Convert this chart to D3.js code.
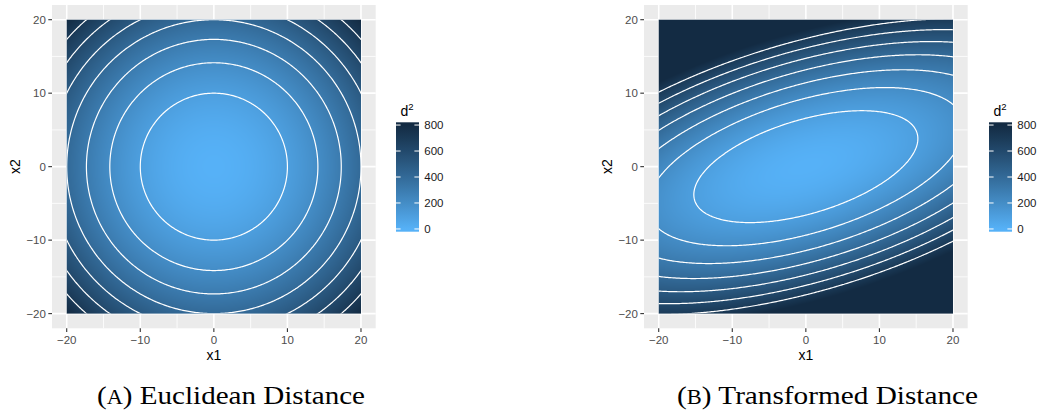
<!DOCTYPE html>
<html>
<head>
<meta charset="utf-8">
<script src="https://cdn.jsdelivr.net/npm/d3@7"></script>
<style>
  html, body { margin: 0; padding: 0; background: #ffffff; }
  svg { display: block; }
</style>
</head>
<body>
<svg id="chart" width="1038" height="411"></svg>
<script>
// Axis ticks and grid positions (same for x1 and x2)
const majorTicks = [-20, -10, 0, 10, 20];
const minorTicks = [-15, -5, 5, 15];
// Sampled square of the plane
const sampleRange = [-20, 20];
// Quadratic forms d^2 = x' M x for each panel
const euclideanMetric = [[1, 0], [0, 1]];
const transformedMetric = [[0.575, -0.575], [-0.575, 2.3]];
// Contour levels drawn as white lines
const contourLevels = [100, 200, 300, 400, 500, 600, 700];
// Colour bar
const legendTicks = [0, 200, 400, 600, 800];
const fillLimits = [0, 800];
const panelTitles = ["Euclidean Distance", "Transformed Distance"];
const panelTags = ["A", "B"];

const panels = [
  { metric: euclideanMetric, left: 52, right: 375.7, legendX: 396, captionX: 231, captionW: 268, tag: panelTags[0], title: panelTitles[0] },
  { metric: transformedMetric, left: 644, right: 967.7, legendX: 989, captionX: 827.5, captionW: 301, tag: panelTags[1], title: panelTitles[1] }
];

const panelTop = 5, panelBottom = 328.3;
const pad = (sampleRange[1] - sampleRange[0]) * 0.05;

const fill = d3.scaleLinear()
  .domain(fillLimits)
  .range(["#56B1F7", "#132B43"])
  .interpolate(d3.interpolateLab)
  .clamp(true);

const svg = d3.select("#chart");
const defs = svg.append("defs");

function quad(M, a, b) {
  return M[0][0] * a * a + (M[0][1] + M[1][0]) * a * b + M[1][1] * b * b;
}

panels.forEach((p, pi) => {
  const x = d3.scaleLinear().domain([sampleRange[0] - pad, sampleRange[1] + pad]).range([p.left, p.right]);
  const y = d3.scaleLinear().domain([sampleRange[0] - pad, sampleRange[1] + pad]).range([panelBottom, panelTop]);
  const g = svg.append("g");

  // panel background and grid
  g.append("rect")
    .attr("x", p.left).attr("y", panelTop)
    .attr("width", p.right - p.left).attr("height", panelBottom - panelTop)
    .attr("fill", "#EBEBEB");
  g.selectAll(".minx").data(minorTicks).join("line")
    .attr("x1", d => x(d)).attr("x2", d => x(d)).attr("y1", panelTop).attr("y2", panelBottom)
    .attr("stroke", "#fff").attr("stroke-width", 0.8);
  g.selectAll(".miny").data(minorTicks).join("line")
    .attr("y1", d => y(d)).attr("y2", d => y(d)).attr("x1", p.left).attr("x2", p.right)
    .attr("stroke", "#fff").attr("stroke-width", 0.8);
  g.selectAll(".majx").data(majorTicks).join("line")
    .attr("x1", d => x(d)).attr("x2", d => x(d)).attr("y1", panelTop).attr("y2", panelBottom)
    .attr("stroke", "#fff").attr("stroke-width", 1.6);
  g.selectAll(".majy").data(majorTicks).join("line")
    .attr("y1", d => y(d)).attr("y2", d => y(d)).attr("x1", p.left).attr("x2", p.right)
    .attr("stroke", "#fff").attr("stroke-width", 1.6);

  // distance raster
  const px0 = x(sampleRange[0]), px1 = x(sampleRange[1]);
  const py0 = y(sampleRange[1]), py1 = y(sampleRange[0]);
  const W = Math.round((px1 - px0) * 2), H = Math.round((py1 - py0) * 2);
  const canvas = document.createElement("canvas");
  canvas.width = W; canvas.height = H;
  const ctx = canvas.getContext("2d");
  const img = ctx.createImageData(W, H);
  for (let j = 0; j < H; j++) {
    const v2 = y.invert(py0 + (j + 0.5) / 2);
    for (let i = 0; i < W; i++) {
      const v1 = x.invert(px0 + (i + 0.5) / 2);
      const c = d3.rgb(fill(quad(p.metric, v1, v2)));
      const k = (j * W + i) * 4;
      img.data[k] = c.r; img.data[k + 1] = c.g; img.data[k + 2] = c.b; img.data[k + 3] = 255;
    }
  }
  ctx.putImageData(img, 0, 0);
  g.append("image")
    .attr("href", canvas.toDataURL())
    .attr("x", px0).attr("y", py0)
    .attr("width", px1 - px0).attr("height", py1 - py0)
    .attr("preserveAspectRatio", "none");

  // contour lines, computed on a grid wider than the plot and clipped to it
  const step = 0.2, lo = sampleRange[0] - 2, hi = sampleRange[1] + 2;
  const n = Math.round((hi - lo) / step) + 1;
  const values = new Array(n * n);
  for (let j = 0; j < n; j++) {
    for (let i = 0; i < n; i++) {
      values[j * n + i] = quad(p.metric, lo + i * step, lo + j * step);
    }
  }
  const contours = d3.contours().size([n, n]).thresholds(contourLevels)(values);
  const proj = d3.geoTransform({
    point: function (gx, gy) {
      this.stream.point(x(lo + (gx - 0.5) * step), y(lo + (gy - 0.5) * step));
    }
  });
  const clipId = "clip" + pi;
  defs.append("clipPath").attr("id", clipId).append("rect")
    .attr("x", px0).attr("y", py0).attr("width", px1 - px0).attr("height", py1 - py0);
  g.append("g").attr("clip-path", `url(#${clipId})`)
    .selectAll("path").data(contours).join("path")
    .attr("d", d3.geoPath(proj))
    .attr("fill", "none").attr("stroke", "#fff").attr("stroke-width", 1.2);

  // axes
  const tickLen = 3.7;
  g.selectAll(".tx").data(majorTicks).join("line")
    .attr("x1", d => x(d)).attr("x2", d => x(d)).attr("y1", panelBottom).attr("y2", panelBottom + tickLen)
    .attr("stroke", "#333").attr("stroke-width", 1.1);
  g.selectAll(".ty").data(majorTicks).join("line")
    .attr("y1", d => y(d)).attr("y2", d => y(d)).attr("x1", p.left - tickLen).attr("x2", p.left)
    .attr("stroke", "#333").attr("stroke-width", 1.1);
  const fmt = d3.format("d");
  g.selectAll(".lx").data(majorTicks).join("text")
    .attr("x", d => x(d)).attr("y", 343.5)
    .attr("text-anchor", "middle")
    .attr("font-family", "Liberation Sans, Arial, sans-serif").attr("font-size", 11.5)
    .attr("fill", "#4D4D4D").text(d => fmt(d));
  g.selectAll(".ly").data(majorTicks).join("text")
    .attr("x", p.left - tickLen - 2.4).attr("y", d => y(d)).attr("dy", "0.36em")
    .attr("text-anchor", "end")
    .attr("font-family", "Liberation Sans, Arial, sans-serif").attr("font-size", 11.5)
    .attr("fill", "#4D4D4D").text(d => fmt(d));
  g.append("text")
    .attr("x", (p.left + p.right) / 2).attr("y", 360)
    .attr("text-anchor", "middle")
    .attr("font-family", "Liberation Sans, Arial, sans-serif").attr("font-size", 14)
    .attr("fill", "#000").text("x1");
  g.append("text")
    .attr("transform", `translate(${p.left - 32},${(panelTop + panelBottom) / 2}) rotate(-90)`)
    .attr("text-anchor", "middle")
    .attr("font-family", "Liberation Sans, Arial, sans-serif").attr("font-size", 14)
    .attr("fill", "#000").text("x2");

  // colour bar legend
  const barW = 23, barTop = 122.3, barH = 109.4;
  const half = barH / 40;
  const ly = d3.scaleLinear().domain(fillLimits).range([barTop + barH - half, barTop + half]);
  const gradId = "grad" + pi;
  const grad = defs.append("linearGradient").attr("id", gradId)
    .attr("gradientUnits", "userSpaceOnUse")
    .attr("x1", 0).attr("x2", 0).attr("y1", ly(fillLimits[0])).attr("y2", ly(fillLimits[1]));
  d3.range(0, 1.0001, 0.05).forEach(t => {
    grad.append("stop").attr("offset", t)
      .attr("stop-color", fill(fillLimits[0] + t * (fillLimits[1] - fillLimits[0])));
  });
  const lg = svg.append("g");
  lg.append("rect").attr("x", p.legendX).attr("y", barTop)
    .attr("width", barW).attr("height", barH).attr("fill", `url(#${gradId})`);
  const lt = 4.6;
  lg.selectAll(".tl").data(legendTicks).join("line")
    .attr("x1", p.legendX).attr("x2", p.legendX + lt)
    .attr("y1", d => ly(d)).attr("y2", d => ly(d))
    .attr("stroke", "#fff").attr("stroke-width", 1);
  lg.selectAll(".tr").data(legendTicks).join("line")
    .attr("x1", p.legendX + barW - lt).attr("x2", p.legendX + barW)
    .attr("y1", d => ly(d)).attr("y2", d => ly(d))
    .attr("stroke", "#fff").attr("stroke-width", 1);
  lg.selectAll(".tt").data(legendTicks).join("text")
    .attr("x", p.legendX + barW + 5.3).attr("y", d => ly(d)).attr("dy", "0.36em")
    .attr("font-family", "Liberation Sans, Arial, sans-serif").attr("font-size", 11.5)
    .attr("fill", "#1A1A1A").text(d => fmt(d));
  const title = lg.append("text")
    .attr("x", p.legendX + 4.5).attr("y", 116)
    .attr("font-family", "Liberation Sans, Arial, sans-serif").attr("font-size", 14)
    .attr("fill", "#000");
  title.append("tspan").text("d");
  title.append("tspan").attr("font-size", 9.5).attr("dy", -6).text("2");

  // caption under the panel
  const cap = svg.append("text")
    .attr("x", p.captionX).attr("y", 404)
    .attr("text-anchor", "middle")
    .attr("textLength", p.captionW)
    .attr("lengthAdjust", "spacingAndGlyphs")
    .attr("font-family", "Liberation Serif, Times New Roman, serif").attr("font-size", 26)
    .attr("fill", "#000");
  cap.append("tspan").text("(");
  cap.append("tspan").attr("font-size", 20).text(p.tag);
  cap.append("tspan").text(") " + p.title);
});
</script>
</body>
</html>
